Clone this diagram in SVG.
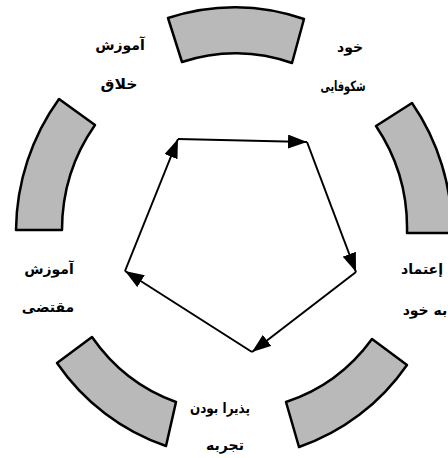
<svg xmlns="http://www.w3.org/2000/svg" width="448" height="458" viewBox="0 0 448 458">
<style>
.seg{fill:#b9b9b9;stroke:#000;stroke-width:2.5;stroke-linejoin:round}
.lbl{font-family:"DejaVu Sans",sans-serif;font-weight:bold;font-size:14px;fill:#000;text-anchor:middle}
.edge{stroke:#000;stroke-width:2;fill:none;marker-end:url(#ah)}
</style>
<defs>
<marker id="ah" markerUnits="userSpaceOnUse" markerWidth="19" markerHeight="14" refX="19" refY="7" orient="auto">
<path d="M0,0 L19,7 L0,14 Z" fill="#000"/>
</marker>
</defs>
<rect width="448" height="458" fill="#fff"/>
<g id="seg-top"><path class="seg" d="M182,62 L168,18 A216 223 0 0 1 304,19 L292,63 A173 179 0 0 0 182,62 Z"/></g>
<g id="seg-right"><path class="seg" d="M376,126 L412,103 A216 223 0 0 1 452,233 L407,233 A173 179 0 0 0 376,126 Z"/></g>
<g id="seg-bottom-right"><path class="seg" d="M372,339 L407,365 A216 223 0 0 1 299,447 L286,402 A173 179 0 0 0 372,339 Z"/></g>
<g id="seg-bottom-left"><path class="seg" d="M176,402 L166,446 A216 223 0 0 1 57,363 L92,337 A173 179 0 0 0 176,402 Z"/></g>
<g id="seg-left"><path class="seg" d="M62,230 L16,230 A216 223 0 0 1 59,99 L95,125 A173 179 0 0 0 62,230 Z"/></g>
<g id="label-creative"><text class="lbl" x="120" y="50">آموزش</text><text class="lbl" x="119" y="89" textLength="37" lengthAdjust="spacingAndGlyphs">خلاق</text></g>
<g id="label-self-actualization"><text class="lbl" x="350" y="52">خود</text><text class="lbl" x="343" y="91" textLength="45" lengthAdjust="spacingAndGlyphs">شکوفایی</text></g>
<g id="label-self-confidence"><text class="lbl" x="422" y="274" textLength="42" lengthAdjust="spacingAndGlyphs">إعتماد</text><text class="lbl" x="425" y="315">به خود</text></g>
<g id="label-openness"><text class="lbl" x="220" y="413" textLength="60" lengthAdjust="spacingAndGlyphs">پذیرا بودن</text><text class="lbl" x="225" y="450">تجربه</text></g>
<g id="label-contingent"><text class="lbl" x="49" y="274">آموزش</text><text class="lbl" x="48" y="312">مقتضی</text></g>
<g id="connectors">
<line class="edge" x1="178" y1="139" x2="307" y2="142"/>
<line class="edge" x1="307" y1="142" x2="356" y2="272"/>
<line class="edge" x1="356" y1="272" x2="252" y2="352"/>
<line class="edge" x1="252" y1="352" x2="125" y2="271"/>
<line class="edge" x1="125" y1="271" x2="178" y2="139"/>
</g>
</svg>
